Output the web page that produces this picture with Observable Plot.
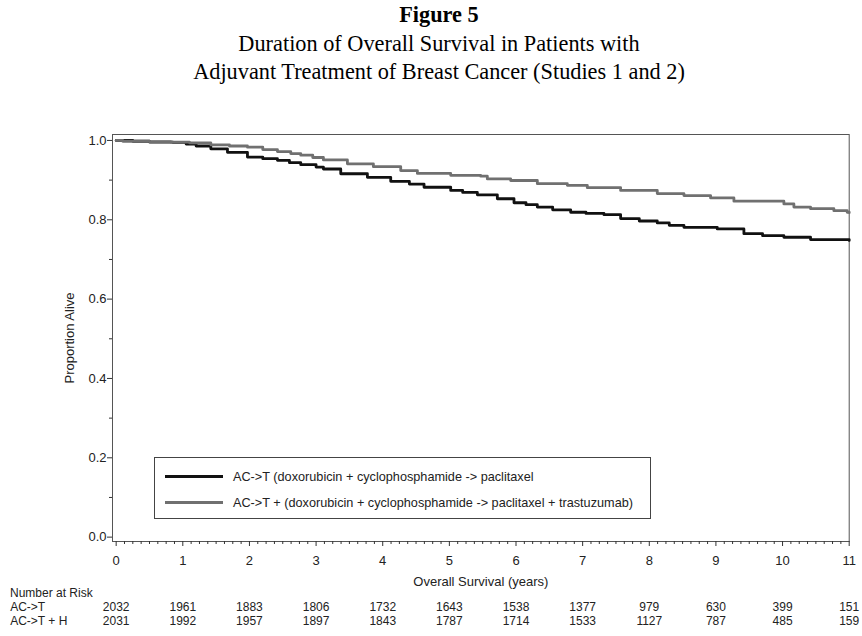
<!DOCTYPE html>
<html>
<head>
<meta charset="utf-8">
<script src="https://cdn.jsdelivr.net/npm/d3@7"></script>
<script src="https://cdn.jsdelivr.net/npm/@observablehq/plot@0.6"></script>
<style>
  html, body { margin: 0; padding: 0; background: #fff; }
  body { width: 862px; height: 636px; position: relative; overflow: hidden; font-family: "Liberation Sans", Arial, sans-serif; color: #222; }
  #title { position: absolute; left: 0; top: 1px; width: 878px; text-align: center; font-family: "Liberation Serif", "Times New Roman", serif; font-size: 22.3px; line-height: 28.5px; color: #000; }
  #title b { font-weight: bold; }
  #plot { position: absolute; left: 0; top: 100px; }
  #risk { position: absolute; left: 0; top: 588px; }
  #riskhead { position: absolute; left: 10px; top: 586px; font-size: 12px; color: #222; }
  #legend { position: absolute; left: 154px; top: 457px; width: 495px; height: 60px; border: 1px solid #444; background: #fff; font-size: 12.7px; color: #222; }
  .lg { position: absolute; left: 0; height: 16px; display: flex; align-items: center; }
  .lg .sw { position: absolute; left: 10px; width: 58px; height: 3px; }
  .lg span.t { position: absolute; left: 78px; white-space: nowrap; }
</style>
</head>
<body>
<div id="title"><b>Figure 5</b><br>Duration of Overall Survival in Patients with<br>Adjuvant Treatment of Breast Cancer (Studies 1 and 2)</div>
<div id="plot"></div>
<div id="legend"></div>
<div id="riskhead">Number at Risk</div>
<div id="risk"></div>
<script>
// ---- Data ----
const seriesNames = ["AC->T (doxorubicin + cyclophosphamide -> paclitaxel", "AC->T + (doxorubicin + cyclophosphamide -> paclitaxel + trastuzumab)"];
const seriesColors = ["#111111", "#707070"];

const timeACT = [0, 0.25, 0.5, 0.85, 1.05, 1.2, 1.42, 1.67, 1.97, 2.2, 2.42, 2.6, 2.77, 3.0, 3.11, 3.37, 3.77, 4.12, 4.4, 4.62, 5.02, 5.2, 5.42, 5.72, 5.97, 6.15, 6.32, 6.55, 6.82, 7.05, 7.32, 7.57, 7.85, 8.12, 8.3, 8.52, 9.02, 9.42, 9.7, 10.02, 10.42, 11.0];
const survACT = [1.0, 0.998, 0.996, 0.995, 0.991, 0.986, 0.979, 0.970, 0.958, 0.954, 0.950, 0.944, 0.939, 0.933, 0.928, 0.916, 0.907, 0.897, 0.890, 0.882, 0.874, 0.869, 0.863, 0.853, 0.843, 0.838, 0.832, 0.825, 0.819, 0.816, 0.813, 0.803, 0.797, 0.792, 0.786, 0.781, 0.777, 0.765, 0.760, 0.756, 0.750, 0.748];

const timeACTH = [0, 0.1, 0.5, 0.82, 1.1, 1.42, 1.7, 1.97, 2.2, 2.42, 2.62, 2.77, 2.95, 3.11, 3.47, 3.86, 4.27, 4.52, 5.02, 5.47, 5.57, 5.92, 6.32, 6.77, 7.07, 7.57, 8.12, 8.52, 8.92, 9.27, 10.02, 10.17, 10.42, 10.77, 10.97, 11.0];
const survACTH = [1.0, 0.998, 0.997, 0.996, 0.994, 0.989, 0.986, 0.983, 0.977, 0.972, 0.967, 0.963, 0.957, 0.951, 0.941, 0.934, 0.924, 0.917, 0.912, 0.910, 0.903, 0.899, 0.891, 0.887, 0.881, 0.874, 0.866, 0.861, 0.855, 0.847, 0.840, 0.832, 0.828, 0.823, 0.819, 0.818];

const riskTimes = [0, 1, 2, 3, 4, 5, 6, 7, 8, 9, 10, 11];
const riskGroups = ["AC->T", "AC->T + H"];
const riskACT = [2032, 1961, 1883, 1806, 1732, 1643, 1538, 1377, 979, 630, 399, 151];
const riskACTH = [2031, 1992, 1957, 1897, 1843, 1787, 1714, 1533, 1127, 787, 485, 159];

const yMajor = [0, 0.2, 0.4, 0.6, 0.8, 1.0];
const yMinor = [0.1, 0.3, 0.5, 0.7, 0.9];
const xMajor = riskTimes;
const xMinor = d3.range(0, 11.0001, 0.125).filter(v => Math.abs(v - Math.round(v)) > 1e-6);

// ---- Build tables ----
const curves = [
  ...timeACT.map((t, i) => ({time: t, surv: survACT[i], series: seriesNames[0]})),
  ...timeACTH.map((t, i) => ({time: t, surv: survACTH[i], series: seriesNames[1]}))
];
const risk = [
  ...riskTimes.map((t, i) => ({time: t, group: riskGroups[0], n: riskACT[i]})),
  ...riskTimes.map((t, i) => ({time: t, group: riskGroups[1], n: riskACTH[i]}))
];

const xDomain = [-0.055, 11];
const W = 862, ML = 112, MR = 13.3;
const FONT = "'Liberation Sans', Arial, sans-serif";

const plot = Plot.plot({
  width: W, height: 488,
  marginLeft: ML, marginRight: MR, marginTop: 34, marginBottom: 47,
  style: {fontFamily: FONT, fontSize: "13px", color: "#222", background: "#fff", overflow: "visible"},
  x: {domain: xDomain},
  y: {domain: [-0.011, 1.015]},
  color: {domain: seriesNames, range: seriesColors},
  marks: [
    Plot.frame({stroke: "#555", strokeWidth: 1}),
    Plot.axisY(yMajor, {tickSize: 5, tickPadding: 1, tickFormat: d3.format(".1f"), stroke: "#333", label: "Proportion Alive", labelArrow: "none", labelAnchor: "center", labelOffset: 48, fontSize: 13}),
    Plot.axisY(yMinor, {tickSize: 3, tickFormat: () => "", stroke: "#333", label: null}),
    Plot.axisX(xMajor, {tickSize: 5, tickPadding: 9, stroke: "#333", label: "Overall Survival (years)", labelArrow: "none", labelAnchor: "center", labelOffset: 44, fontSize: 13}),
    Plot.axisX(xMinor, {tickSize: 3, tickFormat: () => "", stroke: "#333", label: null}),
    Plot.line(curves, {x: "time", y: "surv", z: "series", stroke: "series", curve: "step-after", strokeWidth: 2.8})
  ]
});
document.getElementById("plot").appendChild(plot);

const riskPlot = Plot.plot({
  width: W, height: 48,
  marginLeft: ML, marginRight: MR, marginTop: 12, marginBottom: 8,
  style: {fontFamily: FONT, fontSize: "12px", color: "#222", background: "transparent", overflow: "visible"},
  x: {domain: xDomain, axis: null},
  y: {type: "point", domain: riskGroups, padding: 0.5, axis: null},
  marks: [
    Plot.text(riskGroups, {x: () => 0, y: d => d, text: d => d, textAnchor: "start", dx: -106, fontSize: 12, fill: "#222"}),
    Plot.text(risk, {x: "time", y: "group", text: d => String(d.n), fontSize: 12, fill: "#222"})
  ]
});
document.getElementById("risk").appendChild(riskPlot);

// ---- Legend ----
const lg = document.getElementById("legend");
seriesNames.forEach((name, i) => {
  const row = document.createElement("div");
  row.className = "lg";
  row.style.top = (11 + i * 25.5) + "px";
  row.style.width = "100%";
  const sw = document.createElement("div");
  sw.className = "sw";
  sw.style.background = seriesColors[i];
  sw.style.top = "6px";
  const t = document.createElement("span");
  t.className = "t";
  t.textContent = name;
  row.appendChild(sw);
  row.appendChild(t);
  lg.appendChild(row);
});
</script>
</body>
</html>
